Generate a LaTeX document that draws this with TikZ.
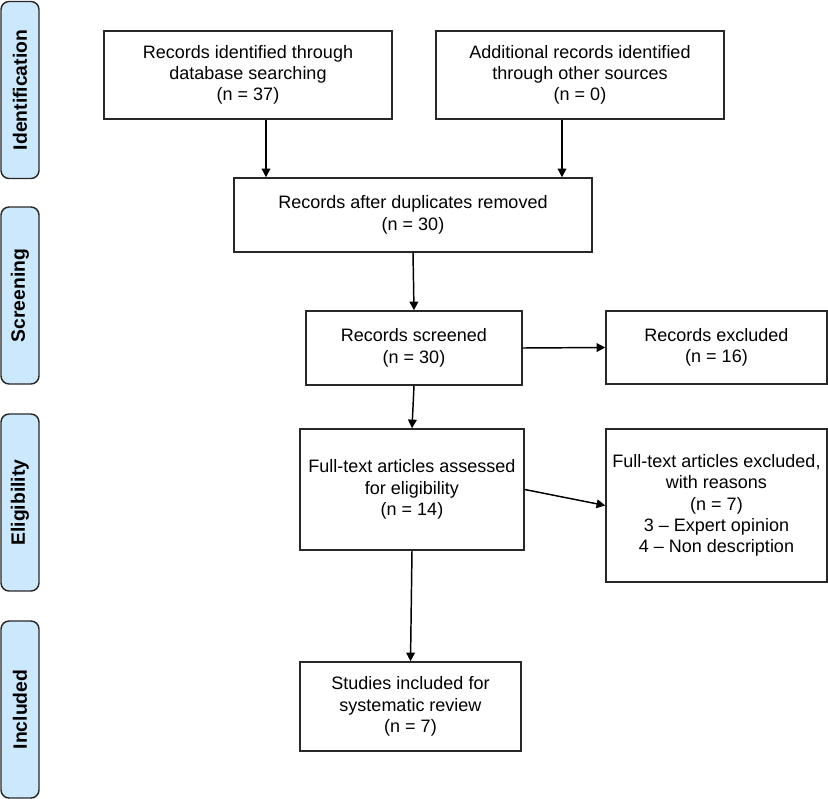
\documentclass[tikz,border=0pt]{standalone}
\usepackage{fontspec}
\setmainfont{Liberation Sans}
\usetikzlibrary{arrows.meta}
\definecolor{phasefill}{RGB}{204,232,252}
\definecolor{edge}{RGB}{40,40,40}

\begin{document}
\begin{tikzpicture}[x=0.75pt,y=-0.75pt,
    box/.style={draw=edge,line width=1.1pt,align=center,inner sep=2pt,
      font=\fontsize{13.5}{16}\selectfont},
    phase/.style={draw=edge,fill=phasefill,line width=1.1pt,rounded corners=6pt,
      rotate=90,minimum width=132.75pt,minimum height=28.5pt,inner sep=0pt,
      font=\bfseries\fontsize{14.5}{17}\selectfont},
    arr/.style={-{Triangle[width=6.5pt,length=6.5pt]},line width=1.1pt}]
  \useasboundingbox (0,0) rectangle (828,799);
  \node [phase] (ident) at (20,90) {Identification};
  \node [phase] (screen) at (20,295.5) {Screening};
  \node [phase] (elig) at (20,502.5) {Eligibility};
  \node [phase] (incl) at (20,709.5) {Included};
  \node [box,minimum width=216pt,minimum height=66pt] (db) at (248,75)
    {Records identified through\\ database searching\\ (n = 37)};
  \node [box,minimum width=216pt,minimum height=66pt] (other) at (580,75)
    {Additional records identified\\ through other sources\\ (n = 0)};
  \node [box,minimum width=268.5pt,minimum height=55.5pt] (dup) at (413,215)
    {Records after duplicates removed\\ (n = 30)};
  \node [box,minimum width=162pt,minimum height=55.5pt] (scr) at (414,348)
    {Records screened\\ (n = 30)};
  \node [box,minimum width=165.75pt,minimum height=54.75pt] (excl) at (716.5,347.5)
    {Records excluded\\ (n = 16)};
  \node [box,minimum width=168pt,minimum height=90.75pt] (full) at (412,489.5)
    {Full-text articles assessed\\ for eligibility\\ (n = 14)};
  \node [box,minimum width=165.75pt,minimum height=114.75pt] (fexcl) at (716.5,505.5)
    {Full-text articles excluded,\\ with reasons\\ (n = 7)\\ 3 – Expert opinion\\ 4 – Non description};
  \node [box,minimum width=165.75pt,minimum height=66.75pt] (study) at (410.5,706.5)
    {Studies included for\\ systematic review\\ (n = 7)};
  \draw [arr] ([xshift=13.5pt]db.south) -- ([xshift=13.5pt]db.south |- dup.north);
  \draw [arr] ([xshift=-13.5pt]other.south) -- ([xshift=-13.5pt]other.south |- dup.north);
  \draw [arr] (dup.south) -- (scr.north);
  \draw [arr] (scr.east) -- (excl.west);
  \draw [arr] (scr.south) -- (full.north);
  \draw [arr] (full.east) -- (fexcl.west);
  \draw [arr] (full.south) -- (study.north);
\end{tikzpicture}
\end{document}
